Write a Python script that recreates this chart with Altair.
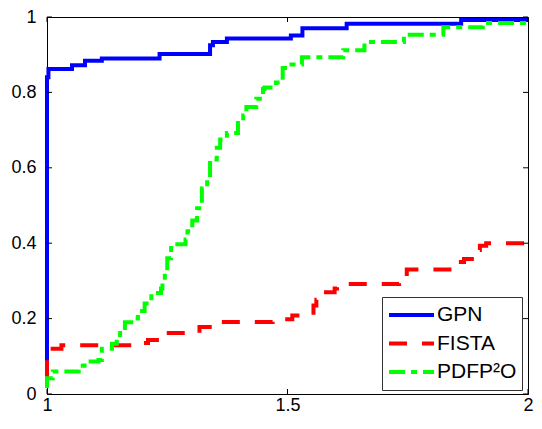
import altair as alt
import pandas as pd

series = ["GPN", "FISTA", "PDFP²O"]
colors = ["#0000FF", "#FF0000", "#00FF00"]
dashes = [[1, 0], [18, 15], [16, 6, 6, 6]]

gpn_x = [1.0, 1.0, 1.003, 1.052, 1.079, 1.114, 1.234, 1.339, 1.345, 1.374, 1.507, 1.531, 1.623, 1.861, 2.0]
gpn_y = [0.04, 0.84, 0.862, 0.872, 0.884, 0.890, 0.902, 0.925, 0.934, 0.943, 0.951, 0.970, 0.982, 0.992, 0.992]

fista_x = [1.0, 1.0, 1.03, 1.196, 1.21, 1.24, 1.317, 1.36, 1.469, 1.51, 1.554, 1.56, 1.567, 1.598, 1.603,
           1.732, 1.74, 1.748, 1.844, 1.856, 1.867, 1.889, 1.90, 1.913, 2.0]
fista_y = [0.042, 0.12, 0.129, 0.135, 0.143, 0.162, 0.178, 0.191, 0.198, 0.208, 0.235, 0.25, 0.27, 0.28, 0.292,
           0.30, 0.312, 0.33, 0.341, 0.35, 0.358, 0.382, 0.393, 0.40, 0.40]

pdfp_x = [1.0, 1.0, 1.012, 1.066, 1.078, 1.107, 1.114, 1.135, 1.145, 1.152, 1.162, 1.175, 1.189, 1.203, 1.217,
          1.237, 1.24, 1.245, 1.25, 1.258, 1.288, 1.292, 1.302, 1.312, 1.322, 1.333, 1.339, 1.353, 1.36, 1.374,
          1.397, 1.408, 1.4145, 1.435, 1.449, 1.452, 1.476, 1.49, 1.503, 1.53, 1.616, 1.66, 1.742, 1.824, 1.906, 2.0]
pdfp_y = [0.016, 0.042, 0.06, 0.075, 0.086, 0.09, 0.12, 0.133, 0.15, 0.168, 0.19, 0.20, 0.22, 0.24, 0.268,
          0.28, 0.30, 0.32, 0.36, 0.397, 0.41, 0.432, 0.46, 0.493, 0.545, 0.57, 0.622, 0.653, 0.675, 0.692,
          0.726, 0.739, 0.761, 0.783, 0.809, 0.813, 0.826, 0.865, 0.874, 0.893, 0.912, 0.934, 0.953, 0.973, 0.984, 0.984]

x_ticks = [1, 1.5, 2]
y_ticks = [0, 0.2, 0.4, 0.6, 0.8, 1]

rows = []
for name, xs_, ys_ in zip(series, [gpn_x, fista_x, pdfp_x], [gpn_y, fista_y, pdfp_y]):
    for i, (a, b) in enumerate(zip(xs_, ys_)):
        rows.append({"series": name, "x": a, "y": b, "order": i})
df = pd.DataFrame(rows)

W, H = 481, 377
xscale = alt.Scale(domain=[1, 2], nice=False, zero=False)
yscale = alt.Scale(domain=[0, 1], nice=False, zero=False)
xaxis = alt.Axis(values=x_ticks, format="~g", title=None, labelPadding=2, labelFlush=False)
yaxis = alt.Axis(values=y_ticks, format="~g", title=None, labelPadding=11, labelFlush=False)

legend = alt.Legend(
    title=None, orient="none", legendX=335, legendY=280,
    symbolType="stroke", symbolSize=2025, symbolStrokeWidth=4,
    labelFont="Liberation Sans", labelFontSize=21, labelColor="black",
    fillColor="white", strokeColor="#333333", padding=5, cornerRadius=0,
    clipHeight=26, rowPadding=2.5, labelOffset=1, labelLimit=300,
)

lines = alt.Chart(df).mark_line(strokeWidth=4, interpolate="step-after").encode(
    x=alt.X("x:Q", scale=xscale, axis=xaxis),
    y=alt.Y("y:Q", scale=yscale, axis=yaxis),
    color=alt.Color("series:N", scale=alt.Scale(domain=series, range=colors), sort=series, legend=legend),
    strokeDash=alt.StrokeDash("series:N", scale=alt.Scale(domain=series, range=dashes), sort=series, legend=legend),
    order=alt.Order("order:Q"),
)

ydf = pd.DataFrame({"y": y_ticks})
xdf = pd.DataFrame({"x": x_ticks})
left_t = alt.Chart(ydf).mark_rule(color="black", strokeWidth=1).encode(
    y=alt.Y("y:Q", scale=yscale, axis=yaxis), x=alt.value(0), x2=alt.value(5))
right_t = alt.Chart(ydf).mark_rule(color="black", strokeWidth=1).encode(
    y=alt.Y("y:Q", scale=yscale, axis=yaxis), x=alt.value(W - 5), x2=alt.value(W))
bot_t = alt.Chart(xdf).mark_rule(color="black", strokeWidth=1).encode(
    x=alt.X("x:Q", scale=xscale, axis=xaxis), y=alt.value(H), y2=alt.value(H - 5))
top_t = alt.Chart(xdf).mark_rule(color="black", strokeWidth=1).encode(
    x=alt.X("x:Q", scale=xscale, axis=xaxis), y=alt.value(0), y2=alt.value(5))

chart = alt.layer(lines, left_t, right_t, bot_t, top_t).properties(
    width=W, height=H,
    autosize=alt.AutoSizeParams(type="none"),
    padding={"left": 39, "top": 9, "right": 6, "bottom": 20},
).configure_axis(
    labelFont="Liberation Sans", labelFontSize=18, labelColor="black",
    domainColor="black", domainWidth=1, tickSize=0, grid=False,
).configure_view(stroke="black", strokeWidth=1)

chart.save("out.html", embed_options={"renderer": "svg", "actions": False})
